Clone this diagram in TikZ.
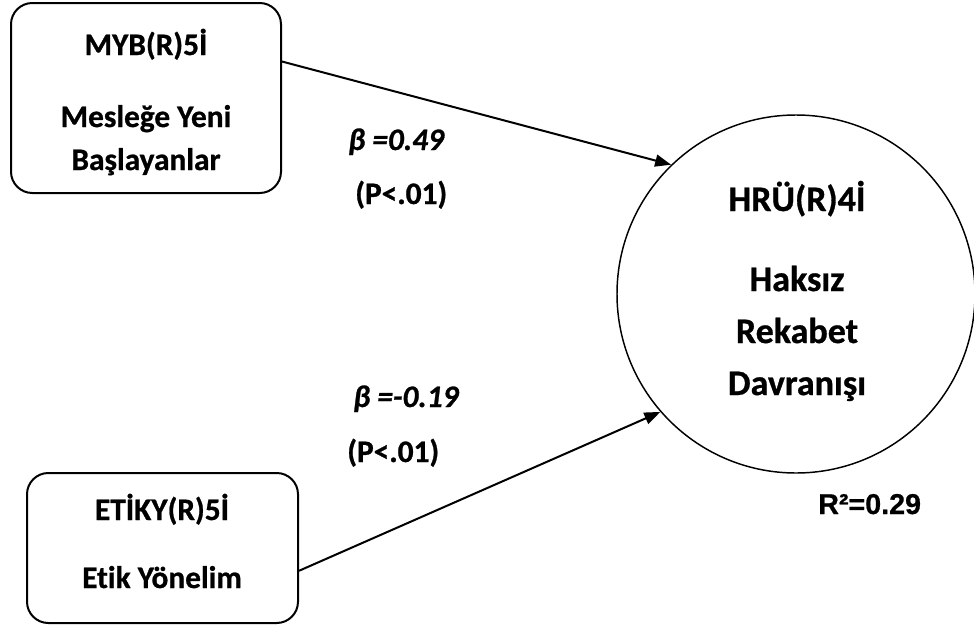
\documentclass[tikz,border=0pt]{standalone}
\usepackage{fontspec}
\setmainfont{Carlito}[Ligatures=NoCommon,BoldFeatures={FakeBold=0.8},BoldItalicFeatures={FakeBold=0.8}]
\newfontfamily\arialfont{Liberation Sans}[BoldFeatures={FakeBold=0.6}]
\usetikzlibrary{arrows.meta,calc}
\begin{document}
\begin{tikzpicture}[x=0.75pt,y=-0.75pt,
  box/.style={draw,line width=1.5pt,rounded corners=16pt,inner sep=0pt},
  lbl/.style={anchor=base,inner sep=0pt,font=\fontsize{23.5}{28}\selectfont\bfseries},
  big/.style={anchor=base,inner sep=0pt,font=\fontsize{27}{32}\selectfont\bfseries},
  coef/.style={anchor=base west,inner sep=0pt,font=\fontsize{23.5}{28}\selectfont\bfseries},
  arr/.style={line width=1.5pt,-{Triangle[length=12pt,width=9pt]}}]
\useasboundingbox (0,0) rectangle (974,628);
\node[box,minimum width=202.5pt,minimum height=142.5pt] (b1) at (146,98) {};
\node[box,minimum width=203.25pt,minimum height=112.5pt] (b2) at (162.5,548) {};
\node[draw,circle,line width=1.1pt,minimum size=268.5pt,inner sep=0pt] (hr) at (796,294) {};
% texts
\node[lbl] (t1) at (146,55) {MYB(R)5İ};
\node[lbl] (t2) at (146,127) {Mesleğe Yeni};
\node[lbl] (t3) at (146,170) {Başlayanlar};
\node[lbl] (t4) at (162,520) {ETİKY(R)5İ};
\node[lbl] (t5) at (162,588) {Etik Yönelim};
\node[big] (t6) at (797,211) {HRÜ(R)4İ};
\node[big] (t7) at (797,291) {Haksız};
\node[big] (t8) at (797,343) {Rekabet};
\node[big] (t9) at (797,395) {Davranışı};
\node[anchor=base west,inner sep=0pt,font=\arialfont\fontsize{21.5}{25}\selectfont\bfseries] (r2) at (818,514) {R²=0.29};
\node[coef] (c1) at (348,150) {\itshape β =0.49};
\node[coef] (c2) at (355,204) {(P<.01)};
\node[coef] (c3) at (353,407) {\itshape β =-0.19};
\node[coef] (c4) at (347,462) {(P<.01)};
% connectors
\draw[arr] ($(b1.north east)!0.31!(b1.south east)$) -- (hr.134);
\draw[arr] ($(b2.north east)!0.65!(b2.south east)$) -- (hr.221);
\end{tikzpicture}
\end{document}
